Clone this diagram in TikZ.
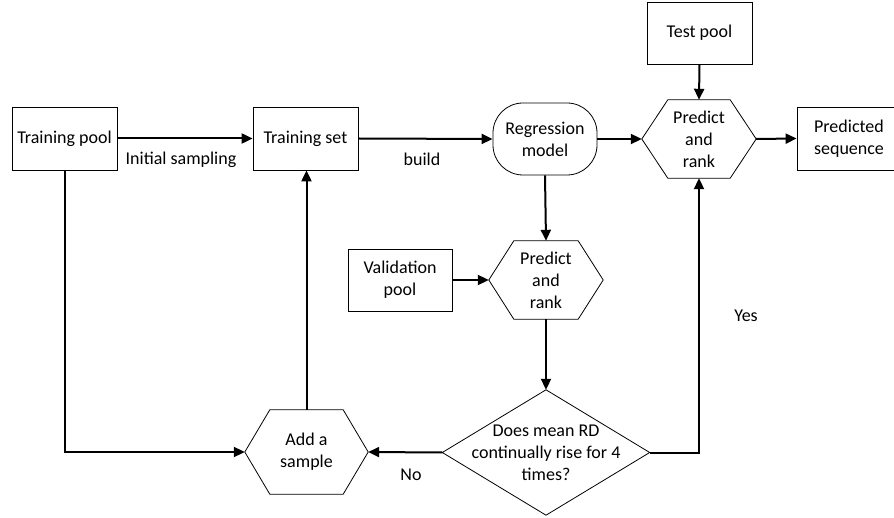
\documentclass[tikz,border=0pt]{standalone}
\usepackage{fontspec}
\setmainfont{Carlito}
\usetikzlibrary{arrows.meta}
\begin{document}
\begin{tikzpicture}[x=1pt,y=-1pt,
  every node/.style={font=\fontsize{18}{22}\selectfont, align=center, inner sep=0pt},
  boxnode/.style={draw, line width=0.8pt, minimum width=105pt, minimum height=63pt},
  roundnode/.style={draw, line width=0.8pt, minimum width=104pt, minimum height=72pt, rounded corners=30pt},
  plainnode/.style={minimum width=114pt, minimum height=78pt},
  outline/.style={line width=0.8pt, line join=miter},
  conn/.style={line width=2pt, -{Triangle[length=11pt,width=10pt]}},
  lbl/.style={}
]
\useasboundingbox (0,0) rectangle (894,518);
% nodes
\node[boxnode] (tp) at (64.5,138.5) {Training pool};
\node[boxnode] (ts) at (305.5,138.5) {Training set};
\node[roundnode] (reg) at (545,139) {Regression\\model};
\node[plainnode] (p1) at (699,139) {Predict\\and\\rank};
\node[boxnode, minimum height=62pt] (test) at (699.5,33) {Test pool};
\node[boxnode, minimum width=104pt] (pred) at (849,138.5) {Predicted\\sequence};
\node[boxnode, minimum width=104pt, minimum height=62pt] (val) at (400,280) {Validation\\pool};
\node[plainnode] (p2) at (546,280) {Predict\\and\\rank};
\node[minimum width=207pt, minimum height=125pt] (dia) at (546,452.5) {Does mean RD\\continually rise for 4\\times?};
\node[minimum width=123pt, minimum height=84pt] (add) at (306.5,452) {Add a\\sample};
% shape outlines
\draw[outline] (p1.west) -- ([xshift=26pt]p1.north west) -- ([xshift=-26pt]p1.north east) -- (p1.east) -- ([xshift=-26pt]p1.south east) -- ([xshift=26pt]p1.south west) -- cycle;
\draw[outline] (p2.west) -- ([xshift=25pt]p2.north west) -- ([xshift=-25pt]p2.north east) -- (p2.east) -- ([xshift=-25pt]p2.south east) -- ([xshift=25pt]p2.south west) -- cycle;
\draw[outline] (add.west) -- ([xshift=25pt]add.north west) -- ([xshift=-25pt]add.north east) -- (add.east) -- ([xshift=-25pt]add.south east) -- ([xshift=25pt]add.south west) -- cycle;
\draw[outline] (dia.west) -- (dia.north) -- (dia.east) -- (dia.south) -- cycle;
% connectors
\draw[conn] (tp.east) -- (ts.west);
\draw[conn] (ts.east) -- (reg.west);
\draw[conn] (reg.east) -- (p1.west);
\draw[conn] (p1.east) -- (pred.west);
\draw[conn] (test.south) -- (p1.north);
\draw[conn] (reg.south) -- (p2.north);
\draw[conn] (val.east) -- (p2.west);
\draw[conn] (p2.south) -- (dia.north);
\draw[conn] (dia.west) -- (add.east);
\draw[conn] (dia.east) -| (p1.south);
\draw[conn] (tp.south) |- (add.west);
\draw[conn] (add.north) -- (add.north |- ts.south);
% labels
\node[lbl] (l1) at (181,160) {Initial sampling};
\node[lbl] (l2) at (422,159) {build};
\node[lbl] (l3) at (411,475) {No};
\node[lbl] (l4) at (746,316) {Yes};
\end{tikzpicture}
\end{document}
